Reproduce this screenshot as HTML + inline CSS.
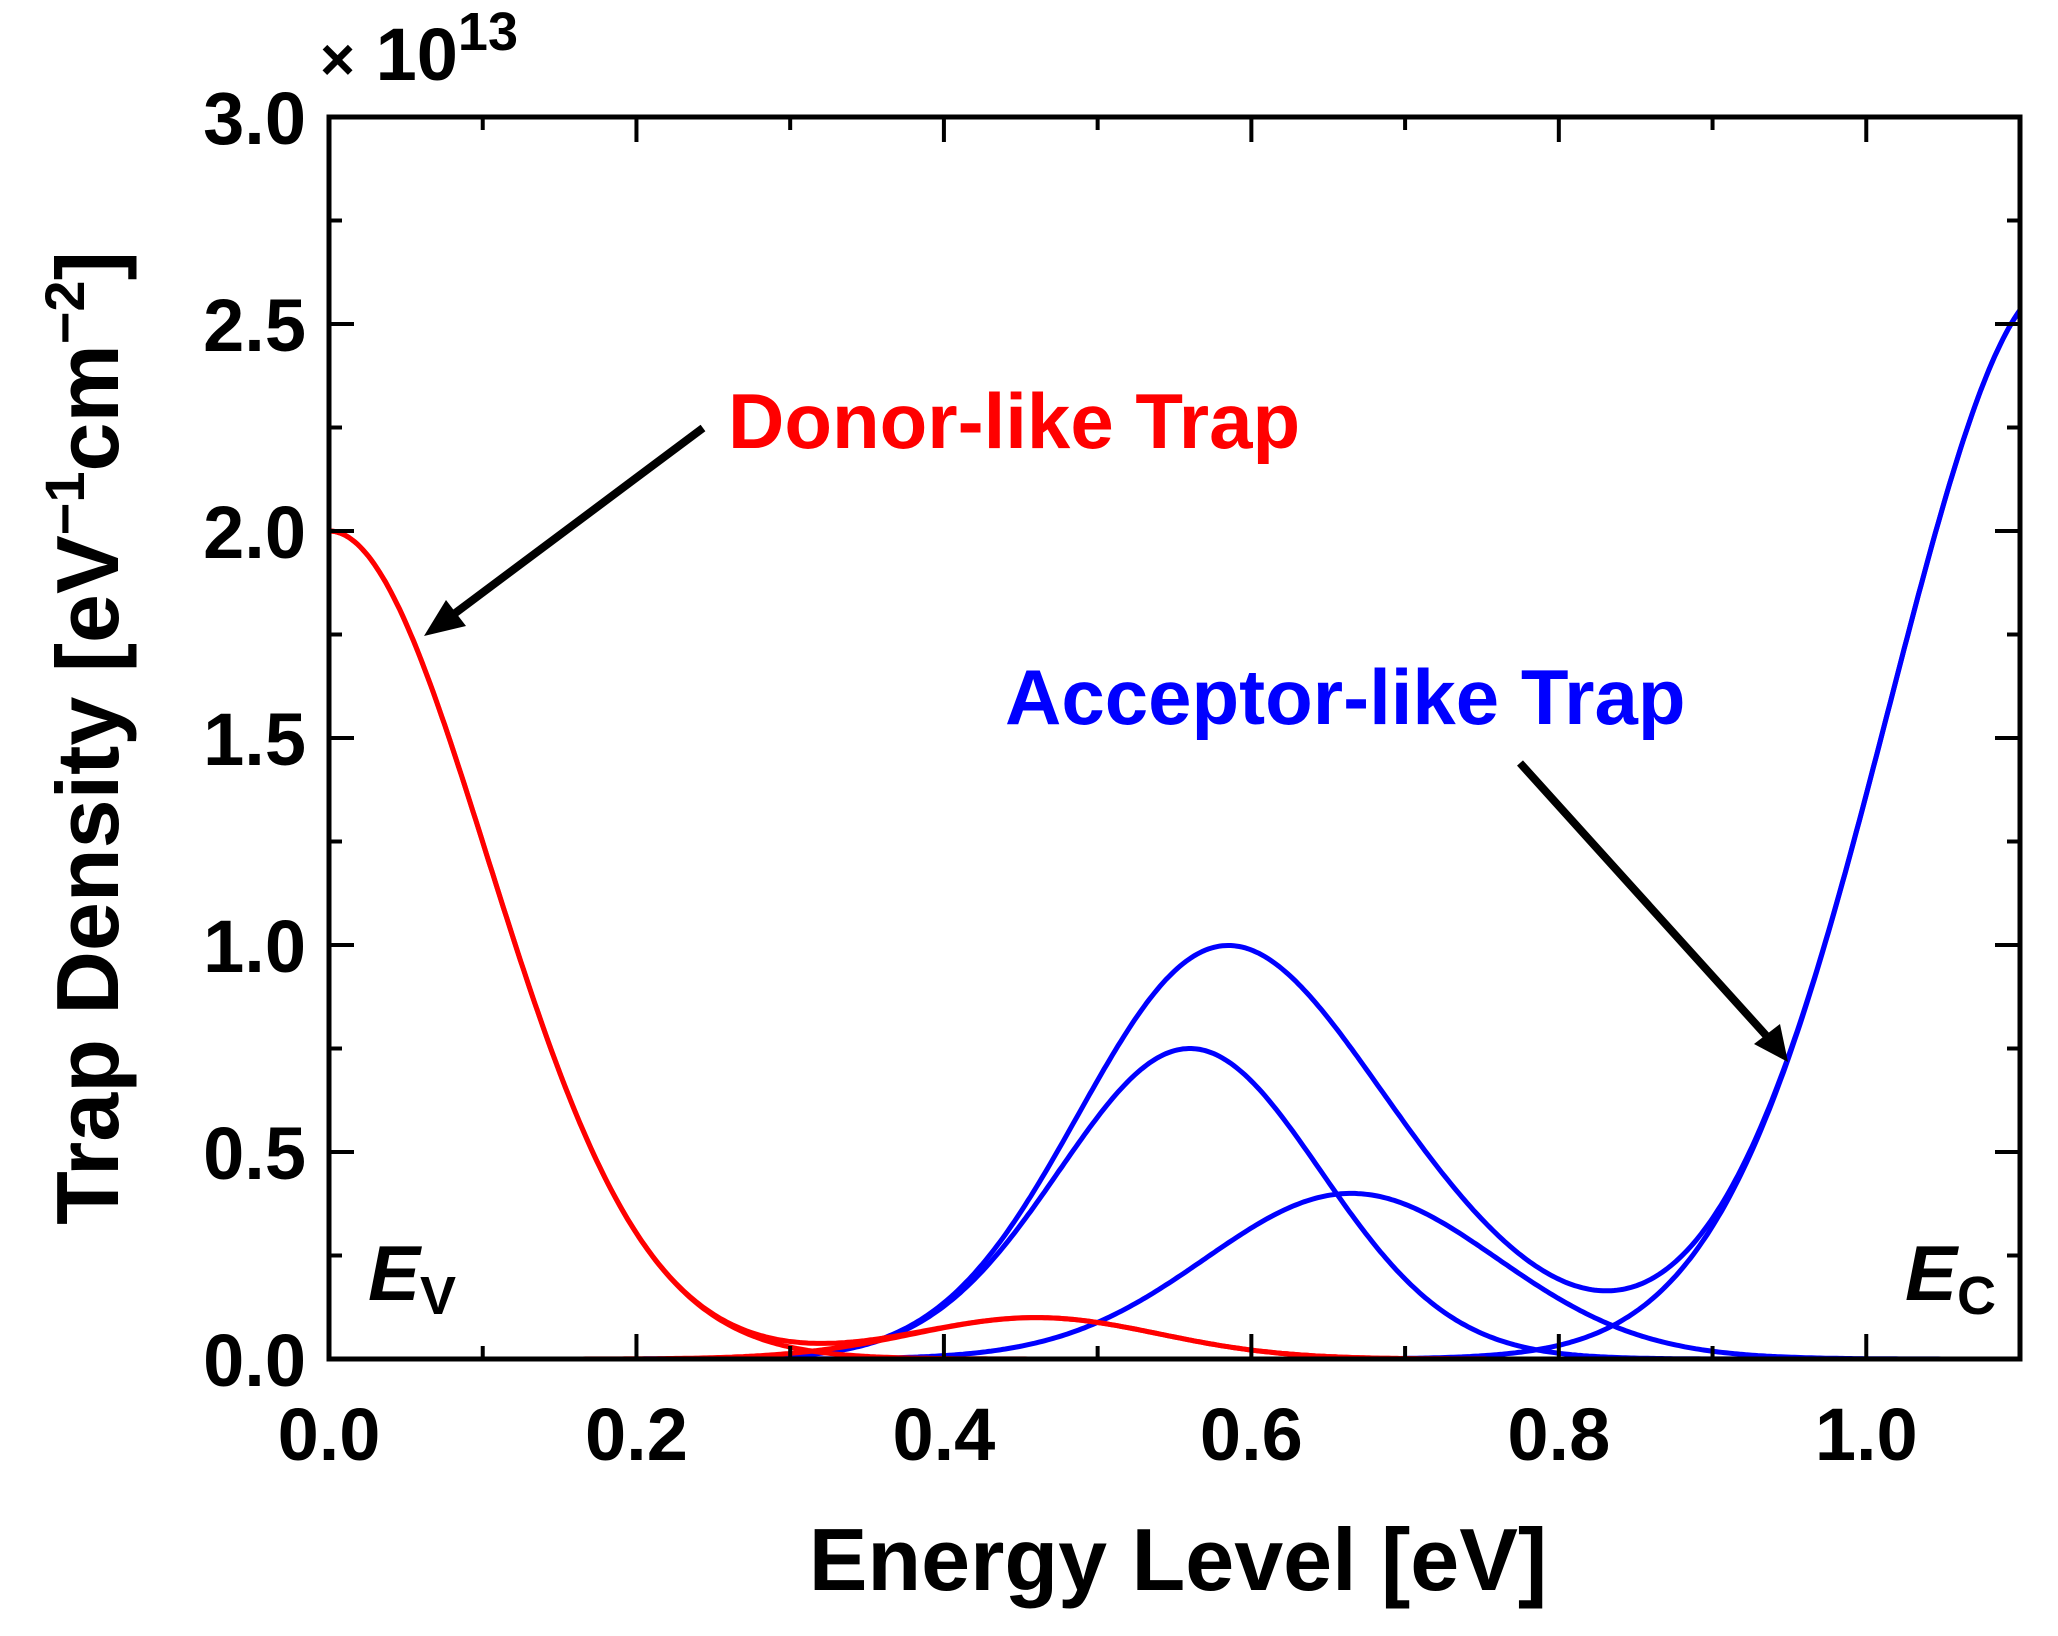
<!DOCTYPE html>
<html><head><meta charset="utf-8"><style>
html,body{margin:0;padding:0;background:#fff;}
svg{display:block;font-family:"Liberation Sans",Arial,sans-serif;font-weight:bold;}
</style></head><body>
<svg id="chart" width="2058" height="1636" viewBox="0 0 2058 1636" xmlns="http://www.w3.org/2000/svg">
<g id="curves"></g>
<g id="axes"></g>
<text x="320" y="80" font-size="74"><tspan font-size="60">×</tspan> 10<tspan font-size="54" dy="-30">13</tspan></text>
<text transform="translate(118,738) rotate(-90)" text-anchor="middle" font-size="88">Trap Density [eV<tspan font-size="56" dy="-34">−1</tspan><tspan dy="34">cm</tspan><tspan font-size="56" dy="-34">−2</tspan><tspan dy="34">]</tspan></text>
<text x="1178" y="1590" text-anchor="middle" font-size="88">Energy Level [eV]</text>
<text x="728" y="448" font-size="78" fill="#ff0000">Donor-like Trap</text>
<text x="1005" y="724" font-size="78" fill="#0000ff">Acceptor-like Trap</text>
<text x="368" y="1300" font-size="78" font-style="italic">E<tspan font-size="54" font-style="normal" dy="14">V</tspan></text>
<text x="1905" y="1300" font-size="78" font-style="italic">E<tspan font-size="54" font-style="normal" dy="14">C</tspan></text>
<g>
<line x1="703" y1="428" x2="450" y2="617" stroke="#000" stroke-width="8"/>
<polygon points="424,636 446,600 466,626" fill="#000"/>
</g>
<g>
<line x1="1520" y1="763" x2="1772" y2="1042" stroke="#000" stroke-width="8"/>
<polygon points="1788,1062 1754,1044 1780,1024" fill="#000"/>
</g>
</svg>
<script>
// axis ranges
const xTicks = [0.0, 0.2, 0.4, 0.6, 0.8, 1.0];
const xTickLabels = ["0.0", "0.2", "0.4", "0.6", "0.8", "1.0"];
const yTicks = [0.0, 0.5, 1.0, 1.5, 2.0, 2.5, 3.0];
const yTickLabels = ["0.0", "0.5", "1.0", "1.5", "2.0", "2.5", "3.0"];
// donor-like trap components (×10^13)
const donorCenters = [0.0, 0.46];
const donorPeaks = [2.0, 0.1];
const donorWidths = [0.103, 0.08];
// acceptor-like trap components (×10^13)
const acceptorCenters = [0.56, 0.665, 1.125];
const acceptorPeaks = [0.75, 0.40, 2.6];
const acceptorWidths = [0.085, 0.095, 0.11];

const L = 329, R = 2020, T = 117, B = 1359;
const XMAX = 1.1, YMAX = 3.0;
const sx = v => L + v / XMAX * (R - L);
const sy = v => B - v / YMAX * (B - T);
const NS = "http://www.w3.org/2000/svg";
const curves = document.getElementById('curves');
const axes = document.getElementById('axes');

function mk(tag, attrs, parent) {
  const e = document.createElementNS(NS, tag);
  for (const k in attrs) e.setAttribute(k, attrs[k]);
  parent.appendChild(e);
  return e;
}
function gauss(x, c, p, w) { return p * Math.exp(-((x - c) * (x - c)) / (2 * w * w)); }
function pathFor(fn) {
  let d = "";
  for (let i = 0; i <= 600; i++) {
    const x = XMAX * i / 600;
    let y = Math.min(fn(x), YMAX);
    d += (i ? "L" : "M") + sx(x).toFixed(1) + "," + sy(y).toFixed(1);
  }
  return d;
}
function drawSet(centers, peaks, widths, color, nm) {
  for (let i = 0; i < centers.length; i++) {
    const p = mk('path', {d: pathFor(x => gauss(x, centers[i], peaks[i], widths[i])), fill: 'none', stroke: color, 'stroke-width': 5}, curves);
    
    
  }
  const t = mk('path', {d: pathFor(x => { let s = 0; for (let i = 0; i < centers.length; i++) s += gauss(x, centers[i], peaks[i], widths[i]); return s; }), fill: 'none', stroke: color, 'stroke-width': 5}, curves);
  
  
}
drawSet(acceptorCenters, acceptorPeaks, acceptorWidths, '#0000ff', 'acceptor');
drawSet(donorCenters, donorPeaks, donorWidths, '#ff0000', 'donor');

const fr = mk('rect', {x: L, y: T, width: R - L, height: B - T, fill: 'none', stroke: '#000', 'stroke-width': 5}, axes);


for (let v = 0; v <= XMAX + 1e-9; v += 0.1) {
  const major = Math.abs(v * 5 - Math.round(v * 5)) < 1e-6;
  const len = major ? 25 : 13;
  const x = sx(v);
  const a = mk('line', {x1: x, y1: B, x2: x, y2: B - len, stroke: '#000', 'stroke-width': 4}, axes);
  
  
  const b = mk('line', {x1: x, y1: T, x2: x, y2: T + len, stroke: '#000', 'stroke-width': 4}, axes);
  
  
}
xTicks.forEach((v, i) => {
  const t = mk('text', {x: sx(v), y: 1460, 'text-anchor': 'middle', 'font-size': 74}, axes);
  t.textContent = xTickLabels[i];
  
  
});
for (let v = 0; v <= YMAX + 1e-9; v += 0.25) {
  const major = Math.abs(v * 2 - Math.round(v * 2)) < 1e-6;
  const len = major ? 25 : 13;
  const y = sy(v);
  const a = mk('line', {x1: L, y1: y, x2: L + len, y2: y, stroke: '#000', 'stroke-width': 4}, axes);
  
  
  const b = mk('line', {x1: R, y1: y, x2: R - len, y2: y, stroke: '#000', 'stroke-width': 4}, axes);
  
  
}
yTicks.forEach((v, i) => {
  const t = mk('text', {x: 306, y: sy(v) + 27, 'text-anchor': 'end', 'font-size': 74}, axes);
  t.textContent = yTickLabels[i];
  
  
});
</script>
</body></html>
